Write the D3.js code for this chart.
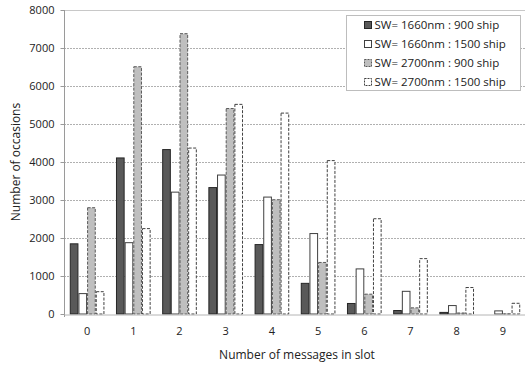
<!DOCTYPE html>
<html>
<head>
<meta charset="utf-8">
<script src="https://cdn.jsdelivr.net/npm/d3@7"></script>
<style>
  body { margin: 0; background: #fff; }
  text { font-family: "Open Sans", "Noto Sans", sans-serif; fill: #222; }
</style>
</head>
<body>
<div id="chart"></div>
<script>
// data
var categories = ["0", "1", "2", "3", "4", "5", "6", "7", "8", "9"];
var seriesNames = [
  "SW= 1660nm : 900 ship",
  "SW= 1660nm : 1500 ship",
  "SW= 2700nm : 900 ship",
  "SW= 2700nm : 1500 ship"
];
var sw1660_900 = [1860, 4120, 4340, 3340, 1840, 820, 290, 105, 55, 12];
var sw1660_1500 = [550, 1890, 3220, 3670, 3090, 2130, 1200, 610, 235, 95];
var sw2700_900 = [2810, 6520, 7390, 5420, 3020, 1370, 535, 175, 40, 15];
var sw2700_1500 = [600, 2260, 4380, 5530, 5300, 4050, 2520, 1470, 710, 295];
var yTicks = [0, 1000, 2000, 3000, 4000, 5000, 6000, 7000, 8000];

var allSeries = [sw1660_900, sw1660_1500, sw2700_900, sw2700_1500];

// look of each series
var styles = [
  { fill: "#595959", stroke: "#262626", dash: null },
  { fill: "#ffffff", stroke: "#404040", dash: null },
  { fill: "#bfbfbf", stroke: "#595959", dash: "3,1.5" },
  { fill: "#ffffff", stroke: "#404040", dash: "3,1.5" }
];

var svgWidth = 525;
var svgHeight = 365;
var margin = { top: 10, right: -1, bottom: 51, left: 64 };
var width = svgWidth - margin.left - margin.right;
var height = svgHeight - margin.top - margin.bottom;

var svg = d3.select("#chart")
  .append("svg")
  .attr("width", svgWidth)
  .attr("height", svgHeight);

var chartGroup = svg.append("g")
  .attr("transform", `translate(${margin.left}, ${margin.top})`);

var xScale = d3.scaleBand()
  .domain(categories)
  .range([0, width])
  .paddingInner(0.25)
  .paddingOuter(0.125);

var xSub = d3.scaleBand()
  .domain(d3.range(allSeries.length))
  .range([0, xScale.bandwidth()]);

var yScale = d3.scaleLinear()
  .domain([0, 8000])
  .range([height, 0]);

// gridlines
chartGroup.append("g")
  .selectAll("line")
  .data(yTicks.filter(d => d > 0 && d < 8000))
  .enter()
  .append("line")
  .attr("x1", 0)
  .attr("x2", width)
  .attr("y1", d => yScale(d) + 0.5)
  .attr("y2", d => yScale(d) + 0.5)
  .attr("stroke", "#b0b0b0")
  .attr("stroke-dasharray", "2,1");

// top border
chartGroup.append("line")
  .attr("x1", 0)
  .attr("x2", width)
  .attr("y1", yScale(8000) + 0.5)
  .attr("y2", yScale(8000) + 0.5)
  .attr("stroke", "#c8c8c8");

// bars
var groups = chartGroup.selectAll(".cat")
  .data(categories)
  .enter()
  .append("g")
  .attr("class", "cat")
  .attr("transform", d => `translate(${xScale(d)}, 0)`);

groups.selectAll("rect")
  .data((d, i) => allSeries.map((s, k) => ({ k: k, v: s[i] })))
  .enter()
  .append("rect")
  .attr("x", d => xSub(d.k) + 0.5)
  .attr("y", d => yScale(d.v) + 0.5)
  .attr("width", xSub.bandwidth() - 1)
  .attr("height", d => Math.max(0, height - yScale(d.v) - 0.5))
  .attr("fill", d => styles[d.k].fill)
  .attr("stroke", d => styles[d.k].stroke)
  .attr("stroke-width", 1)
  .attr("stroke-dasharray", d => styles[d.k].dash);

// y axis
var leftAxis = d3.axisLeft(yScale)
  .tickValues(yTicks)
  .tickSize(4)
  .tickFormat(d3.format("d"));

var yAxis = chartGroup.append("g")
  .attr("transform", "translate(0.5, 0)")
  .call(leftAxis);
yAxis.select(".domain").attr("stroke", "#9a9a9a").attr("d", `M0,0V${height + 3}`);
yAxis.selectAll(".tick line").attr("stroke", "#9a9a9a");
yAxis.selectAll(".tick text")
  .attr("x", -10)
  .attr("font-size", "11px")
  .style("font-family", "Open Sans, sans-serif")
  .attr("fill", "#222");

// x axis
var bottomAxis = d3.axisBottom(xScale).tickSize(0).tickPadding(13);
var xAxis = chartGroup.append("g")
  .attr("transform", `translate(0, ${height + 0.5})`)
  .call(bottomAxis);
xAxis.select(".domain").attr("stroke", "#b4b4b4");
xAxis.selectAll(".tick text")
  .attr("font-size", "11px")
  .style("font-family", "Open Sans, sans-serif")
  .attr("fill", "#222");

// axis titles
svg.append("text")
  .attr("transform", `translate(20, ${margin.top + height / 2}) rotate(-90)`)
  .attr("text-anchor", "middle")
  .attr("font-size", "12px")
  .text("Number of occasions");

svg.append("text")
  .attr("x", 297)
  .attr("y", 359)
  .attr("text-anchor", "middle")
  .attr("font-size", "12px")
  .text("Number of messages in slot");

// legend
var legend = svg.append("g")
  .attr("transform", "translate(346.5, 15.5)");

legend.append("rect")
  .attr("width", 174)
  .attr("height", 75)
  .attr("fill", "#fff")
  .attr("stroke", "#bdbdbd");

var legendItems = legend.selectAll(".item")
  .data(seriesNames)
  .enter()
  .append("g")
  .attr("class", "item")
  .attr("transform", (d, i) => `translate(0, ${9.5 + i * 19})`);

legendItems.append("rect")
  .attr("x", 18)
  .attr("y", -3.5)
  .attr("width", 7)
  .attr("height", 7)
  .attr("fill", (d, i) => styles[i].fill)
  .attr("stroke", (d, i) => styles[i].stroke)
  .attr("stroke-dasharray", (d, i) => styles[i].dash ? "2,1" : null);

legendItems.append("text")
  .attr("x", 28)
  .attr("dy", "0.35em")
  .attr("font-size", "11.5px")
  .text(d => d);
</script>
</body>
</html>
